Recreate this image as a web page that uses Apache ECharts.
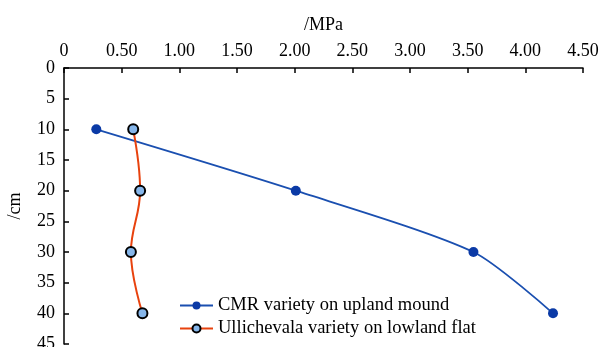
<!DOCTYPE html>
<html>
<head>
<meta charset="utf-8">
<script src="https://cdn.jsdelivr.net/npm/echarts@6/dist/echarts.min.js"></script>
<style>
  html, body { margin: 0; padding: 0; background: #fff; }
  #main { width: 600px; height: 347px; }
</style>
</head>
<body>
<div id="main"></div>
<script>
// depth (cm) and strength (MPa)
var depths = [10, 20, 30, 40];
var cmrValues = [0.28, 2.01, 3.55, 4.24];
var ulliValues = [0.60, 0.66, 0.58, 0.68];
var seriesNames = ["CMR variety on upland mound", "Ullichevala variety on lowland flat"];

function pairs(xs) {
  return xs.map(function (v, i) { return [v, depths[i]]; });
}

var font = "'Liberation Serif', 'DejaVu Serif', serif";
var myChart = echarts.init(document.getElementById("main"));
var option = {
  animation: false,
  grid: { left: 64, right: 17, top: 68, bottom: 3, containLabel: false, outerBoundsMode: "none" },
  legend: {
    orient: "vertical",
    left: 174,
    top: 291,
    itemWidth: 33,
    itemHeight: 10,
    itemGap: 4,
    textStyle: { fontFamily: font, fontSize: 18.5, color: "#000" },
    data: seriesNames
  },
  xAxis: {
    type: "value",
    position: "top",
    min: 0,
    max: 4.5,
    interval: 0.5,
    name: "/MPa",
    nameLocation: "middle",
    nameGap: 34,
    nameTextStyle: { fontFamily: font, fontSize: 18, color: "#000" },
    axisLine: { lineStyle: { color: "#000", width: 1.5 } },
    axisTick: { inside: true, length: 5, lineStyle: { color: "#000", width: 1.5 } },
    axisLabel: {
      fontFamily: font, fontSize: 18, color: "#000", margin: 8,
      formatter: function (v) { return v === 0 ? "0" : v.toFixed(2); }
    },
    splitLine: { show: false }
  },
  yAxis: {
    type: "value",
    inverse: true,
    min: 0,
    max: 45,
    interval: 5,
    name: "/cm",
    nameLocation: "middle",
    nameGap: 40,
    nameTextStyle: { fontFamily: font, fontSize: 18, color: "#000" },
    axisLine: { lineStyle: { color: "#000", width: 1.5 } },
    axisTick: { inside: true, length: 5, lineStyle: { color: "#000", width: 1.5 } },
    axisLabel: { fontFamily: font, fontSize: 18, color: "#000", margin: 9 },
    splitLine: { show: false }
  },
  series: [
    {
      name: seriesNames[0],
      type: "line",
      data: pairs(cmrValues),
      smooth: 0.25,
      symbol: "circle",
      symbolSize: 10,
      lineStyle: { color: "#1a4fb0", width: 1.8 },
      itemStyle: { color: "#0b3aa6", borderWidth: 0 }
    },
    {
      name: seriesNames[1],
      type: "line",
      data: pairs(ulliValues),
      smooth: 0.4,
      symbol: "circle",
      symbolSize: 10,
      lineStyle: { color: "#e8420e", width: 2 },
      itemStyle: { color: "#86b6ea", borderColor: "#000", borderWidth: 2 }
    }
  ]
};
myChart.setOption(option);
</script>
</body>
</html>
